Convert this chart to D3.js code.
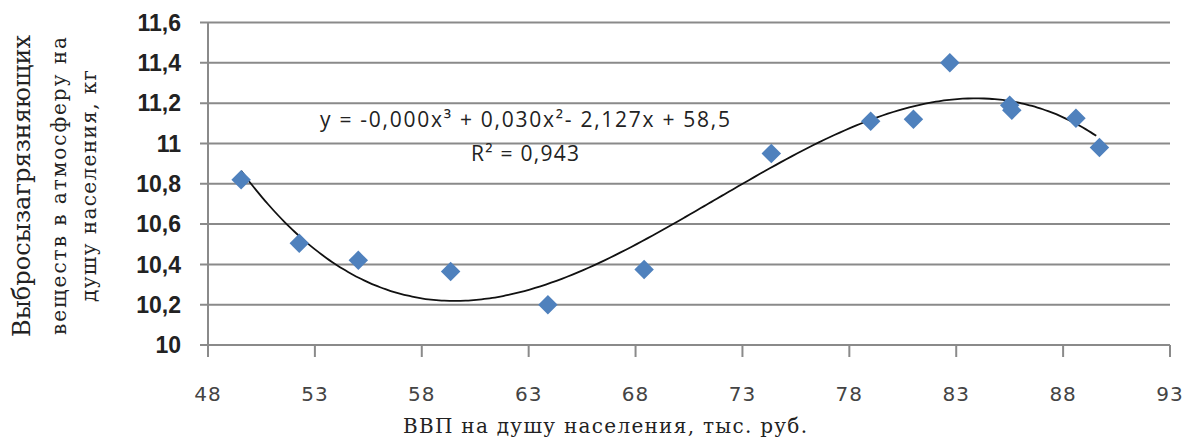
<!DOCTYPE html>
<meta charset="utf-8">
<head>
  <title>Выбросы и ВВП на душу населения</title>
</head>

<style>
body { margin: 0; background: white; }
.grid line { stroke: #8a8a8a; stroke-width: 2; }
.ytick { font-family: "Liberation Sans", Arial, sans-serif; font-weight: bold; font-size: 23px; fill: #222; }
.xtick { font-family: "DejaVu Sans", sans-serif; font-size: 20px; fill: #444; letter-spacing: 1px; }
.title { font-family: "DejaVu Serif", "Liberation Serif", serif; fill: #222; }
.eq { font-family: "Open Sans", "Liberation Sans", sans-serif; font-size: 21px; fill: #222; }
</style>

<body>
  <svg width="1188" height="441"></svg>

  <script src="https://cdnjs.cloudflare.com/ajax/libs/d3/7.8.5/d3.min.js"></script>
  <script>
// значения
var gdp = [49.55, 52.27, 55.03, 59.35, 63.9, 68.4, 74.35, 79.0, 81.0, 82.7, 85.5, 85.6, 88.6, 89.7];
var emissions = [10.82, 10.505, 10.42, 10.365, 10.2, 10.375, 10.95, 11.11, 11.12, 11.40, 11.19, 11.165, 11.125, 10.98];
var xTicks = [48, 53, 58, 63, 68, 73, 78, 83, 88, 93];
var yTicks = [10, 10.2, 10.4, 10.6, 10.8, 11, 11.2, 11.4, 11.6];
var yTitle = ["Выбросызагрязняющих", "веществ в атмосферу на", "душу населения, кг"];
var xTitle = "ВВП на душу населения, тыс. руб.";
var eqText = "y = -0,000x³ + 0,030x²- 2,127x + 58,5";
var r2Text = "R² = 0,943";

var svg = d3.select('svg');
var x = d3.scaleLinear().domain([48, 93]).range([208, 1170]);
var y = d3.scaleLinear().domain([10, 11.6]).range([345, 22.5]);

// сетка
var grid = svg.append('g').attr('class', 'grid');
grid.selectAll('line.h')
  .data(yTicks)
  .enter().append('line')
  .attr('x1', 200).attr('x2', x(93))
  .attr('y1', function(d) { return y(d); })
  .attr('y2', function(d) { return y(d); });
grid.append('line')
  .attr('x1', x(48)).attr('x2', x(48))
  .attr('y1', y(11.6)).attr('y2', 357);
grid.selectAll('line.t')
  .data(xTicks)
  .enter().append('line')
  .attr('x1', function(d) { return x(d); })
  .attr('x2', function(d) { return x(d); })
  .attr('y1', y(10)).attr('y2', 357);

svg.selectAll('text.ytick')
  .data(yTicks)
  .enter().append('text')
  .attr('class', 'ytick')
  .attr('x', 181)
  .attr('y', function(d) { return y(d); })
  .attr('dy', '0.36em')
  .attr('text-anchor', 'end')
  .text(function(d) { return d3.format('.1~f')(d).replace('.', ','); });

svg.selectAll('text.xtick')
  .data(xTicks)
  .enter().append('text')
  .attr('class', 'xtick')
  .attr('x', function(d) { return x(d); })
  .attr('y', 401)
  .attr('text-anchor', 'middle')
  .text(function(d) { return d; });

// полиномиальный тренд 3-й степени (МНК по точкам)
function polyfit(xs, ys, deg) {
  var m = d3.mean(xs);
  var n = deg + 1, A = [], i, j, k;
  for (i = 0; i < n; i++) {
    A.push([]);
    for (j = 0; j < n; j++) A[i].push(d3.sum(xs, function(v) { return Math.pow(v - m, i + j); }));
    A[i].push(d3.sum(xs, function(v, t) { return ys[t] * Math.pow(v - m, i); }));
  }
  for (i = 0; i < n; i++) {
    for (k = i + 1; k < n; k++) {
      var f = A[k][i] / A[i][i];
      for (j = i; j <= n; j++) A[k][j] -= f * A[i][j];
    }
  }
  var c = new Array(n);
  for (i = n - 1; i >= 0; i--) {
    var s = A[i][n];
    for (j = i + 1; j < n; j++) s -= A[i][j] * c[j];
    c[i] = s / A[i][i];
  }
  return function(v) { return d3.sum(c, function(ci, p) { return ci * Math.pow(v - m, p); }); };
}
var trend = polyfit(gdp, emissions, 3);
var xs = d3.range(gdp[0], gdp[gdp.length - 1] + 0.001, 0.25);

svg.append('path')
  .datum(xs)
  .attr('fill', 'none')
  .attr('stroke', '#111')
  .attr('stroke-width', 1.8)
  .attr('d', d3.line()
    .x(function(d) { return x(d); })
    .y(function(d) { return y(trend(d)); })
    .curve(d3.curveMonotoneX));

svg.selectAll('path.pt')
  .data(gdp)
  .enter().append('path')
  .attr('fill', '#4f81bd')
  .attr('transform', function(d, i) { return 'translate(' + [x(d), y(emissions[i])] + ') rotate(45)'; })
  .attr('d', d3.symbol(d3.symbolSquare, 190));

// уравнение тренда
svg.append('text').attr('class', 'eq')
  .attr('x', 525).attr('y', 127).attr('text-anchor', 'middle')
  .attr('textLength', 410)
  .text(eqText);
svg.append('text').attr('class', 'eq')
  .attr('x', 525).attr('y', 161).attr('text-anchor', 'middle')
  .attr('textLength', 108)
  .text(r2Text);

// подписи осей
svg.append('text').attr('class', 'title')
  .attr('x', 605).attr('y', 433).attr('text-anchor', 'middle')
  .attr('font-size', 20)
  .attr('textLength', 404)
  .text(xTitle);

var yt = [[30, 302, 24], [66, 298, 20], [96, 232, 20]];
svg.selectAll('text.yt')
  .data(yTitle)
  .enter().append('text')
  .attr('class', 'title')
  .attr('text-anchor', 'middle')
  .attr('font-size', function(d, i) { return yt[i][2]; })
  .attr('textLength', function(d, i) { return yt[i][1]; })
  .attr('transform', function(d, i) { return 'translate(' + yt[i][0] + ',186) rotate(-90)'; })
  .text(function(d) { return d; });
  </script>
</body>
</html>
